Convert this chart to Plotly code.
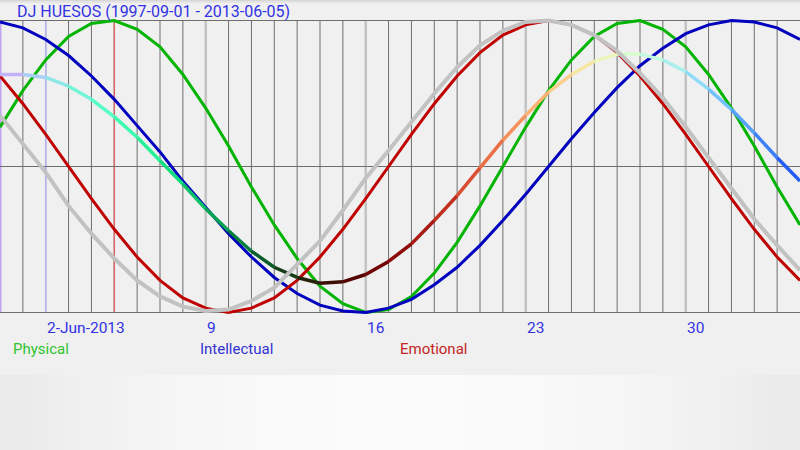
import plotly.graph_objects as go
import pandas as pd

# ---- data ----
dates = pd.date_range("2013-05-31", periods=36, freq="D")

physical = [0.27, 0.52, 0.73, 0.89, 0.98, 1.00, 0.94, 0.82, 0.63, 0.40, 0.14, -0.14,
            -0.40, -0.63, -0.82, -0.94, -1.00, -0.98, -0.89, -0.73, -0.52, -0.27, 0.00, 0.27,
            0.52, 0.73, 0.89, 0.98, 1.00, 0.94, 0.82, 0.63, 0.40, 0.14, -0.14, -0.40]
emotional = [0.62, 0.43, 0.22, 0.00, -0.22, -0.43, -0.62, -0.78, -0.90, -0.97, -1.00, -0.97,
             -0.90, -0.78, -0.62, -0.43, -0.22, 0.00, 0.22, 0.43, 0.62, 0.78, 0.90, 0.97,
             1.00, 0.97, 0.90, 0.78, 0.62, 0.43, 0.22, 0.00, -0.22, -0.43, -0.62, -0.78]
intellectual = [0.99, 0.95, 0.87, 0.76, 0.62, 0.46, 0.28, 0.10, -0.10, -0.28, -0.46, -0.62,
                -0.76, -0.87, -0.95, -0.99, -1.00, -0.97, -0.91, -0.81, -0.69, -0.54, -0.37, -0.19,
                0.00, 0.19, 0.37, 0.54, 0.69, 0.81, 0.91, 0.97, 1.00, 0.99, 0.95, 0.87]
average = [0.63, 0.63, 0.61, 0.55, 0.46, 0.34, 0.20, 0.04, -0.12, -0.29, -0.44, -0.58,
           -0.69, -0.76, -0.80, -0.79, -0.74, -0.65, -0.53, -0.37, -0.20, -0.01, 0.18, 0.35,
           0.51, 0.63, 0.72, 0.77, 0.77, 0.73, 0.65, 0.53, 0.39, 0.23, 0.06, -0.10]
moon = [0.35, 0.15, -0.04, -0.27, -0.46, -0.63, -0.78, -0.89, -0.96, -0.99, -0.98, -0.92,
        -0.83, -0.67, -0.51, -0.30, -0.08, 0.11, 0.31, 0.50, 0.68, 0.83, 0.93, 0.99,
        1.00, 0.97, 0.90, 0.79, 0.64, 0.47, 0.27, 0.06, -0.15, -0.36, -0.54, -0.71]

week_dates = ["2013-06-02", "2013-06-09", "2013-06-16", "2013-06-23", "2013-06-30"]
week_labels = ["2-Jun-2013", "9", "16", "23", "30"]
today = "2013-06-05"
title_text = "DJ HUESOS (1997-09-01 - 2013-06-05)"
legend_names = ["Physical", "Intellectual", "Emotional"]

# ---- styles ----
FONT = "Roboto"
GRID = "#6e6e6e"
Y_TOP, Y_BOT = 1.1404, -1.9418

fig = go.Figure()

shapes = []
# day grid lines
for d in dates[1:-1]:
    shapes.append(dict(type="line", xref="x", yref="y", x0=d, x1=d, y0=-1, y1=1,
                       line=dict(color=GRID, width=1), layer="below"))
# week lines
for i, wd in enumerate(week_dates):
    col = "#b4b4ee" if i == 0 else "#c4c4c4"
    w = 1.5 if i == 0 else 2.5
    shapes.append(dict(type="line", xref="x", yref="y", x0=wd, x1=wd, y0=-1, y1=1,
                       line=dict(color=col, width=w), layer="below"))
# today
shapes.append(dict(type="line", xref="x", yref="y", x0=today, x1=today, y0=-1, y1=1,
                   line=dict(color="#d86868", width=1.5), layer="below"))
# left edge
shapes.append(dict(type="line", xref="x", yref="y", x0=dates[0], x1=dates[0], y0=-1, y1=1,
                   line=dict(color="#c0a4f4", width=3), layer="below"))
# horizontal lines
for yv in [-1, 0, 1]:
    shapes.append(dict(type="line", xref="x", yref="y", x0=dates[0], x1=dates[-1], y0=yv, y1=yv,
                       line=dict(color=GRID, width=1), layer="below"))
# bottom gradient band
N = 50
for k in range(N):
    xc = (k + 0.5) / N
    f = 1 - (abs(xc - 0.5) / 0.5) ** 2
    v = int(round(233 + 18 * f))
    shapes.append(dict(type="rect", xref="paper", yref="paper", x0=k / N, x1=(k + 1) / N + 0.001,
                       y0=0, y1=75 / 450, fillcolor=f"rgb({v},{v},{v})", line=dict(width=0),
                       layer="below"))
# top shadow
shapes.append(dict(type="rect", xref="paper", yref="paper", x0=0, x1=1, y0=1 - 1.5 / 450, y1=1,
                   fillcolor="#d6d6d6", line=dict(width=0), layer="below"))
shapes.append(dict(type="rect", xref="paper", yref="paper", x0=0, x1=1, y0=1 - 3 / 450,
                   y1=1 - 1.5 / 450, fillcolor="#e4e4e4", line=dict(width=0), layer="below"))

# main series
fig.add_trace(go.Scatter(x=dates, y=physical, mode="lines", line=dict(color="#00b400", width=3),
                         hoverinfo="skip", showlegend=False))
fig.add_trace(go.Scatter(x=dates, y=intellectual, mode="lines", line=dict(color="#0000be", width=3),
                         hoverinfo="skip", showlegend=False))
fig.add_trace(go.Scatter(x=dates, y=emotional, mode="lines", line=dict(color="#c00000", width=3),
                         hoverinfo="skip", showlegend=False))


def ch(v):
    return int(round(max(0, min(1, (v + 1) / 2)) * 255))


# average line, coloured segment by segment
for i in range(len(dates) - 1):
    e = (emotional[i] + emotional[i + 1]) / 2
    p = (physical[i] + physical[i + 1]) / 2
    t = (intellectual[i] + intellectual[i + 1]) / 2
    col = f"rgb({ch(e)},{ch(p)},{ch(t)})"
    fig.add_trace(go.Scatter(x=dates[i:i + 2], y=average[i:i + 2], mode="lines",
                             line=dict(color=col, width=3.5), hoverinfo="skip", showlegend=False))

fig.add_trace(go.Scatter(x=dates, y=moon, mode="lines", line=dict(color="#c2c2c2", width=4),
                         hoverinfo="skip", showlegend=False))

annotations = [dict(text=title_text, xref="paper", yref="paper", x=15 / 800, y=1 - 12 / 450,
                    xanchor="left", yanchor="middle", showarrow=False,
                    font=dict(family=FONT, size=16, color="#3232e6"))]
for wd, lab in zip(week_dates, week_labels):
    annotations.append(dict(text=lab, xref="x", yref="paper", x=wd, y=1 - 328 / 450,
                            xanchor="left", yanchor="middle", xshift=-1, showarrow=False,
                            font=dict(family=FONT, size=15.5, color="#3232e6")))
leg_cols = ["#2ec42e", "#3232d2", "#c42424"]
leg_x = [11, 198, 398]
for name, c, lx in zip(legend_names, leg_cols, leg_x):
    annotations.append(dict(text=name, xref="paper", yref="paper", x=lx / 800, y=1 - 349 / 450,
                            xanchor="left", yanchor="middle", showarrow=False,
                            font=dict(family=FONT, size=15, color=c)))

fig.update_layout(
    width=800, height=450,
    margin=dict(l=0, r=0, t=0, b=0),
    paper_bgcolor="#f0f0f0", plot_bgcolor="rgba(0,0,0,0)",
    xaxis=dict(range=[dates[0], dates[-1]], visible=False, fixedrange=True),
    yaxis=dict(range=[Y_BOT, Y_TOP], visible=False, fixedrange=True),
    shapes=shapes, annotations=annotations, showlegend=False,
)

fig.write_html("out.html", config={"displayModeBar": False},
               post_script="document.body.style.margin='0';document.body.style.padding='0';"
                           "document.body.style.overflow='hidden';")
